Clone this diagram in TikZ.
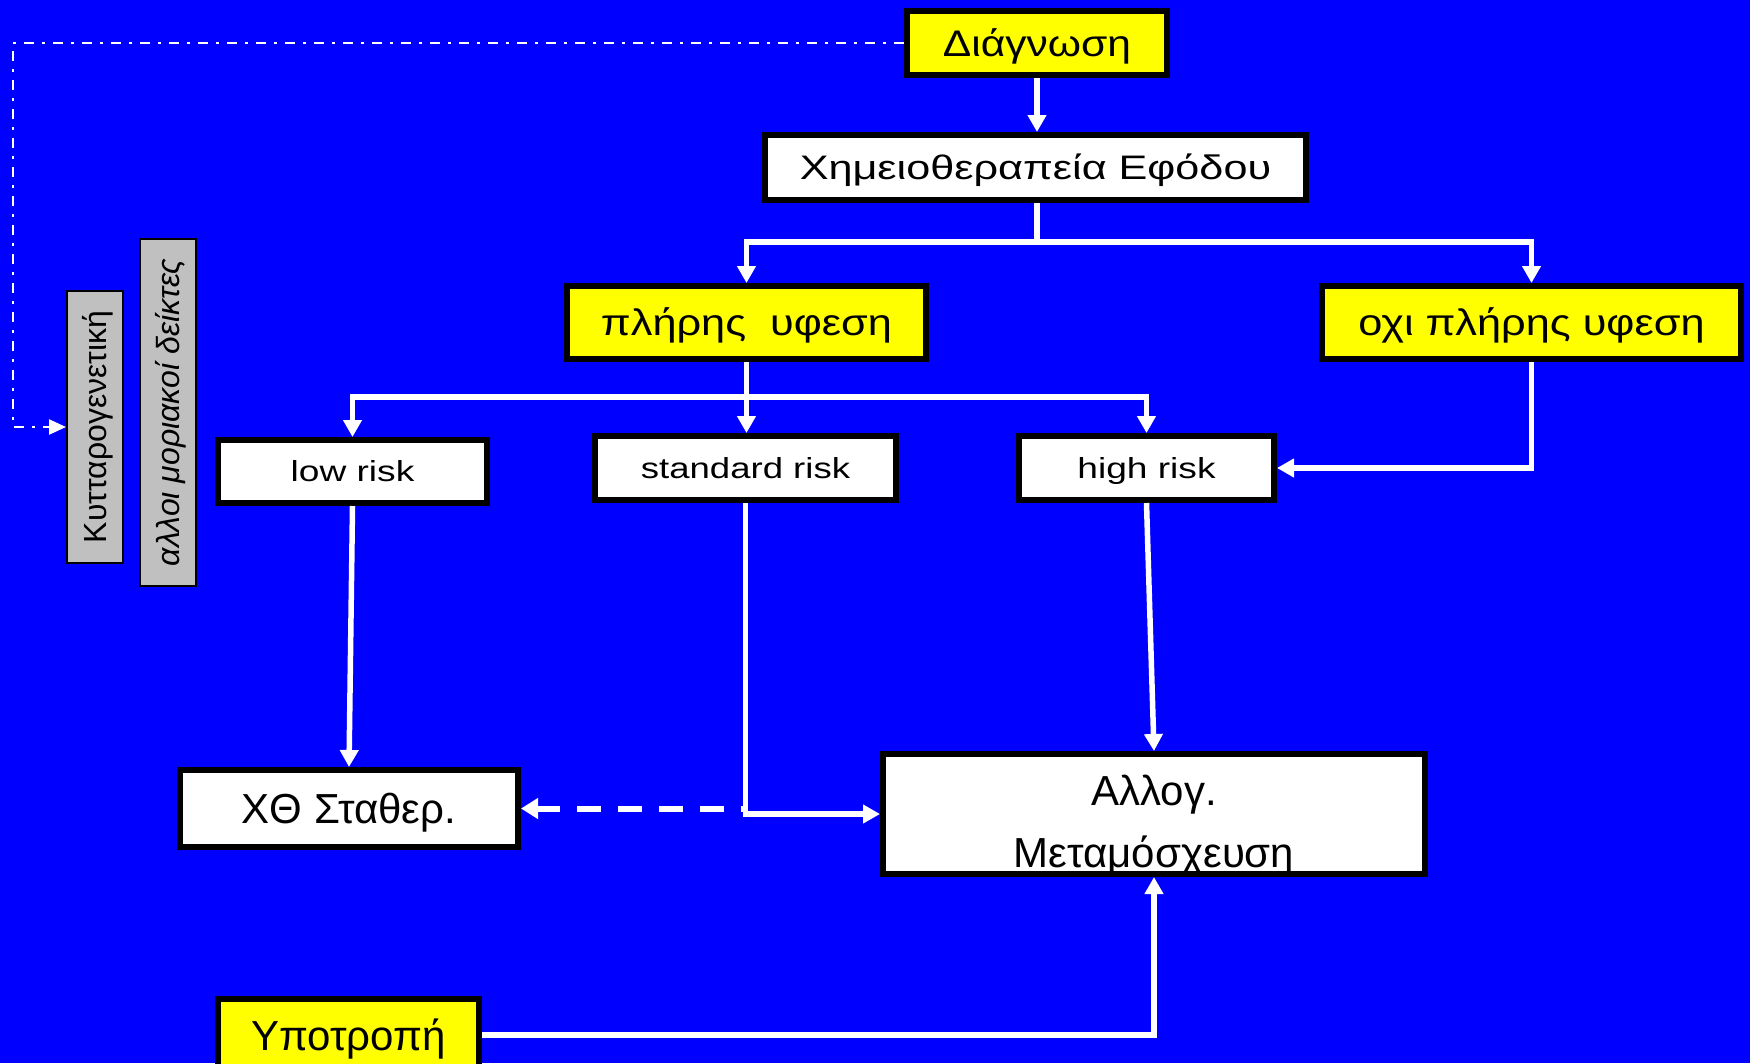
\documentclass[tikz,border=0pt]{standalone}
\usepackage{fontspec}
\setmainfont{Liberation Sans}
\usetikzlibrary{arrows.meta,calc}
\definecolor{bg}{RGB}{0,0,255}
\definecolor{ylw}{RGB}{255,255,0}
\definecolor{gry}{RGB}{192,192,192}
\newcommand{\fsz}[1]{\fontsize{#1}{#1}\selectfont}
\newcommand{\hsc}[2]{\scalebox{#1}[1]{#2}}
\begin{document}
\begin{tikzpicture}[x=1pt,y=-1pt,
  box/.style={draw=black, line width=6pt, inner sep=0pt, text=black},
  ybox/.style={box, fill=ylw},
  wbox/.style={box, fill=white},
  gbox/.style={draw=black, line width=2pt, fill=gry, inner sep=0pt, text=black},
  capc/.style={font=\fsz{#1}, text height=0.716*#1pt, text depth=0pt},
  conn/.style={draw=white, line width=5.5pt, -{Triangle[width=18pt,length=17pt]}},
  wline/.style={draw=white, line width=5.5pt},
  dashconn/.style={draw=white, line width=6pt, dash pattern=on 24pt off 17pt, dash phase=19pt, -{Triangle[width=20pt,length=17pt]}},
  dotdash/.style={draw=white, line width=2.5pt, dash pattern=on 10pt off 8pt on 3pt off 8pt, -{Triangle[width=15pt,length=17pt]}},
]
\fill[bg] (0,0) rectangle (1750,1063);
\useasboundingbox (0,0) rectangle (1750,1063);

% nodes
\node[ybox, capc=37, minimum width=260pt, minimum height=64pt] (diag) at (1037,43) {\hsc{1.15}{Διάγνωση}};
\node[wbox, capc=34, minimum width=541pt, minimum height=65pt] (chemo) at (1035.5,167.5) {\hsc{1.27}{Χημειοθεραπεία Εφόδου}};
\node[ybox, capc=37, minimum width=359pt, minimum height=73pt] (full) at (746.5,322.5) {\hsc{1.17}{πλήρης\ \ υφεση}};
\node[ybox, capc=37, minimum width=419pt, minimum height=73pt] (nofull) at (1531.5,322.5) {\hsc{1.17}{οχι πλήρης υφεση}};
\node[wbox, capc=29, minimum width=269pt, minimum height=63pt] (low) at (352.5,471.5) {\hsc{1.28}{low risk}};
\node[wbox, capc=29, minimum width=301pt, minimum height=64pt] (std) at (745.5,468) {\hsc{1.26}{standard risk}};
\node[wbox, capc=29, minimum width=255pt, minimum height=64pt] (high) at (1146.5,468) {\hsc{1.28}{high risk}};
\node[wbox, capc=42, minimum width=338pt, minimum height=77pt] (xth) at (349,808.5) {ΧΘ Σταθερ.};
\node[wbox, minimum width=542pt, minimum height=120pt] (allo) at (1154,814) {};
\node[text=black, font=\fsz{42}, inner sep=0pt, anchor=base] (allo1) at (1154,805) {Αλλογ.};
\node[text=black, font=\fsz{42}, inner sep=0pt, anchor=base] (allo2) at (1154,867) {Μεταμόσχευση};
\node[ybox, capc=42, minimum width=261pt, minimum height=72pt] (ypo) at (348.5,1035) {Υποτροπή};
\node[gbox, rotate=90, capc=32, minimum width=272pt, minimum height=56pt] (kyt) at (95,427) {Κυτταρογενετική};
\node[gbox, rotate=90, capc=32, minimum width=347pt, minimum height=56pt] (moria) at (168,412.5) {\itshape αλλοι μοριακοί δείκτες};

% junction points
\coordinate (j1) at (1037,242);
\coordinate (j2) at (746,397);
\coordinate (c1) at (13,42);

% connectors
\draw[conn] (diag.south) -- (diag.south |- chemo.north);
\draw[wline] (chemo.south -| j1) -- (j1);
\draw[conn] (j1) -| (full.north);
\draw[conn] (j1) -| (nofull.north);
\draw[conn] (full.south) -- (full.south |- std.north);
\draw[conn] (j2) -| (low.north);
\draw[conn] (j2) -| (high.north);
\draw[conn] (nofull.south) |- (high.east);
\draw[conn] (low.south) -- (xth.north);
\draw[conn] (std.south) |- (allo.west);
\draw[dashconn] (std.south |- xth.east) -- (xth.east);
\draw[conn] (high.south) -- (allo.north);
\draw[conn] (ypo.east) -| (allo.south);
\draw[dotdash] (diag.west) -- (c1 |- diag.west) |- (kyt.north);
\end{tikzpicture}
\end{document}
